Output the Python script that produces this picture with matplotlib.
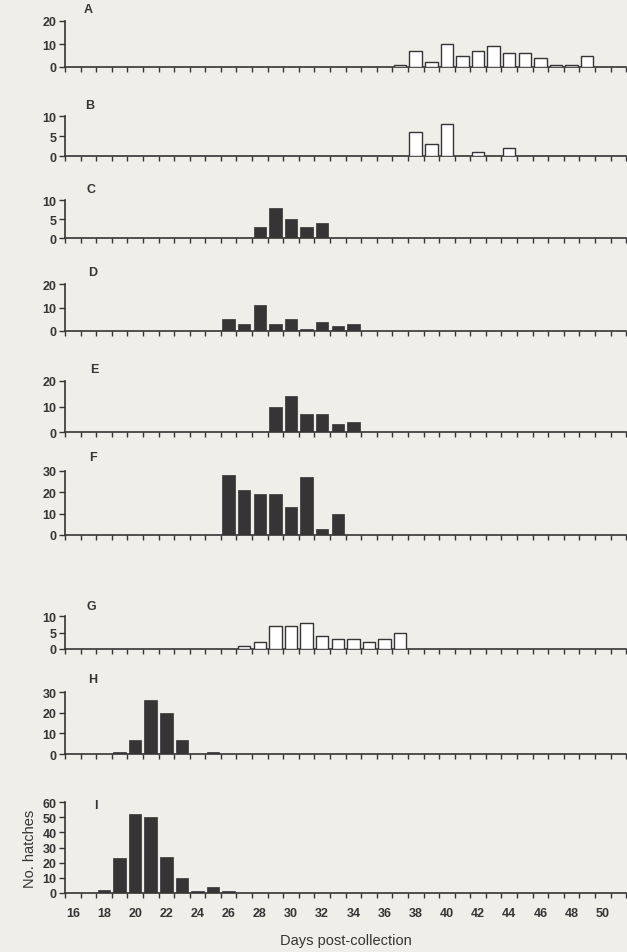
import matplotlib
matplotlib.use("Agg")
import matplotlib.pyplot as plt
from matplotlib.ticker import MultipleLocator, FixedLocator

plt.rcParams["font.family"] = ["Liberation Sans", "DejaVu Sans"]

# Hatch counts per clutch (days with no hatches left out)
panel_names = ["A", "B", "C", "D", "E", "F", "G", "H", "I"]

A_days = list(range(37, 50))
A_counts = [1, 7, 2, 10, 5, 7, 9, 6, 6, 4, 1, 1, 5]
B_days = [38, 39, 40, 42, 44]
B_counts = [6, 3, 8, 1, 2]
C_days = [28, 29, 30, 31, 32]
C_counts = [3, 8, 5, 3, 4]
D_days = list(range(26, 35))
D_counts = [5, 3, 11, 3, 5, 1, 4, 2, 3]
E_days = list(range(29, 35))
E_counts = [10, 14, 7, 7, 3, 4]
F_days = list(range(26, 34))
F_counts = [28, 21, 19, 19, 13, 27, 3, 10]
G_days = list(range(27, 38))
G_counts = [1, 2, 7, 7, 8, 4, 3, 3, 2, 3, 5]
H_days = [19, 20, 21, 22, 23, 25]
H_counts = [1, 7, 26, 20, 7, 1]
I_days = list(range(18, 27))
I_counts = [2, 23, 52, 50, 24, 10, 1, 4, 1]

y_max = [20, 10, 10, 20, 20, 30, 10, 30, 60]
y_step = [10, 5, 5, 10, 10, 10, 5, 10, 10]
open_bars = ["A", "B", "G"]
x_labels = list(range(16, 51, 2))

days_list = [A_days, B_days, C_days, D_days, E_days, F_days, G_days, H_days, I_days]
counts_list = [A_counts, B_counts, C_counts, D_counts, E_counts, F_counts,
               G_counts, H_counts, I_counts]

# pixel rows (top of y axis, baseline) of each panel in the 627x953 figure
rows = [(22, 68), (117, 157), (201, 239), (285, 332), (382, 433),
        (472, 536), (617, 650), (693, 755), (803, 894)]
# x position of the panel letters (in days)
letter_x = [17.0, 17.1, 17.2, 17.3, 17.4, 17.3, 17.2, 17.3, 17.5]

W, H = 627, 953
bg = "#efeee9"
ink = "#363434"
fig = plt.figure(figsize=(W / 100, H / 100), dpi=100, facecolor=bg)

left = 65 / W
width = 0.895

for name, days, counts, ymax, step, (top, base), lx in zip(
        panel_names, days_list, counts_list, y_max, y_step, rows, letter_x):
    ax = fig.add_axes([left, 1 - base / H, width, (base - top) / H])
    ax.set_facecolor("none")
    if name in open_bars:
        ax.bar(days, counts, width=0.8, facecolor="white", edgecolor=ink,
               linewidth=1.0, zorder=3)
    else:
        ax.bar(days, counts, width=0.8, facecolor=ink, edgecolor=ink,
               linewidth=0.5, zorder=3)
    ax.set_xlim(15.5, 51.5)
    ax.set_ylim(0, ymax)
    ax.yaxis.set_major_locator(MultipleLocator(step))
    for s in ["top", "right"]:
        ax.spines[s].set_visible(False)
    for s in ["left", "bottom"]:
        ax.spines[s].set_color(ink)
        ax.spines[s].set_linewidth(1.2)
    ax.tick_params(axis="y", direction="out", length=4, width=1.0,
                   colors=ink, labelsize=9, pad=2)
    ax.xaxis.set_major_locator(FixedLocator(x_labels))
    ax.xaxis.set_minor_locator(FixedLocator([d + 0.5 for d in range(15, 52)]))
    ax.tick_params(axis="x", which="major", length=0, colors=ink,
                   labelsize=9, pad=10)
    ax.tick_params(axis="x", which="minor", direction="out", length=3.5,
                   width=1.0, colors=ink)
    for lab in ax.get_yticklabels():
        lab.set_fontweight("bold")
    if name == "I":
        for lab in ax.get_xticklabels():
            lab.set_fontweight("bold")
        ax.set_ylabel("No. hatches", fontsize=10.5, color=ink, labelpad=4)
        ax.set_xlabel("Days post-collection", fontsize=10.5, color=ink,
                      labelpad=10)
        ax.text(lx, ymax * 0.97, name, fontsize=9, fontweight="bold",
                color=ink, ha="center", va="center")
    else:
        ax.set_xticklabels([])
        ax.text(lx, ymax * 1.12, name, fontsize=9, fontweight="bold",
                color=ink, ha="center", va="bottom", clip_on=False)

fig.savefig("out.png", dpi=100, facecolor=bg)
